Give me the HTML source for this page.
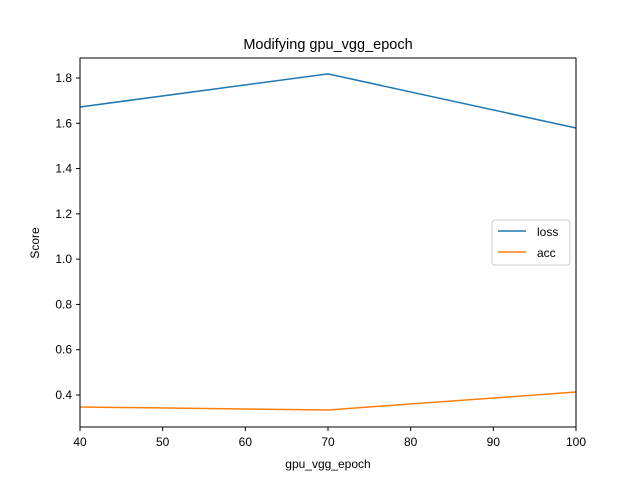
<!DOCTYPE html>
<html><head><meta charset="utf-8"><style>
body{margin:0;background:#fff;}
svg{display:block;font-family:"Liberation Sans","DejaVu Sans",sans-serif;}
</style></head><body>
<svg id="chart" width="640" height="480">
<rect width="640" height="480" fill="#fff"/>
<text x="328" y="49" font-size="14.5" text-anchor="middle">Modifying gpu_vgg_epoch</text>
<g id="axes"></g>
<g id="series"></g>
<rect x="80" y="58" width="496" height="369" fill="none" stroke="#000" stroke-width="1"/>
<text x="328" y="468" font-size="12" text-anchor="middle">gpu_vgg_epoch</text>
<text transform="translate(39,243) rotate(-90)" font-size="12" text-anchor="middle">Score</text>
<g>
<rect x="492" y="220" width="78" height="45" rx="3" fill="#fff" stroke="#ccc"/>
<line x1="498" y1="231" x2="526" y2="231" stroke="#1f77b4" stroke-width="1.5"/>
<text x="537" y="236" font-size="12">loss</text>
<line x1="498" y1="252" x2="526" y2="252" stroke="#ff7f0e" stroke-width="1.5"/>
<text x="537" y="257" font-size="12">acc</text>
</g>
</svg>
<script>
const xValues=[40,70,100];
const lossValues=[1.672,1.818,1.579];
const accValues=[0.347,0.334,0.413];
const xTicks=[40,50,60,70,80,90,100];
const yTicks=[0.4,0.6,0.8,1.0,1.2,1.4,1.6,1.8];
const NS="http://www.w3.org/2000/svg";
function xs(v){return 80+(v-40)/60*496;}
function ys(v){return 395-(v-0.4)/0.2*45.29;}
const axes=document.getElementById('axes');
xTicks.forEach(t=>{
 const l=document.createElementNS(NS,'line');
 l.setAttribute('x1',xs(t));l.setAttribute('x2',xs(t));l.setAttribute('y1',427);l.setAttribute('y2',431);l.setAttribute('stroke','#000');
 
 
 axes.appendChild(l);
 const tx=document.createElementNS(NS,'text');
 tx.setAttribute('x',xs(t));tx.setAttribute('y',446);tx.setAttribute('font-size','12');tx.setAttribute('text-anchor','middle');
 tx.textContent=t;
 
 
 axes.appendChild(tx);
});
yTicks.forEach(t=>{
 const l=document.createElementNS(NS,'line');
 l.setAttribute('x1',76);l.setAttribute('x2',80);l.setAttribute('y1',ys(t));l.setAttribute('y2',ys(t));l.setAttribute('stroke','#000');
 
 
 axes.appendChild(l);
 const tx=document.createElementNS(NS,'text');
 tx.setAttribute('x',72);tx.setAttribute('y',ys(t)+4);tx.setAttribute('font-size','12');tx.setAttribute('text-anchor','end');
 tx.textContent=t.toFixed(1);
 
 
 axes.appendChild(tx);
});
const series=document.getElementById('series');
function line(vals,color,name){
 const p=document.createElementNS(NS,'polyline');
 p.setAttribute('points',xValues.map((x,i)=>xs(x)+','+ys(vals[i])).join(' '));
 p.setAttribute('fill','none');p.setAttribute('stroke',color);p.setAttribute('stroke-width','1.5');
 
 
 series.appendChild(p);
}
line(lossValues,'#1f77b4','loss-line');
line(accValues,'#ff7f0e','acc-line');
</script>
</body></html>
